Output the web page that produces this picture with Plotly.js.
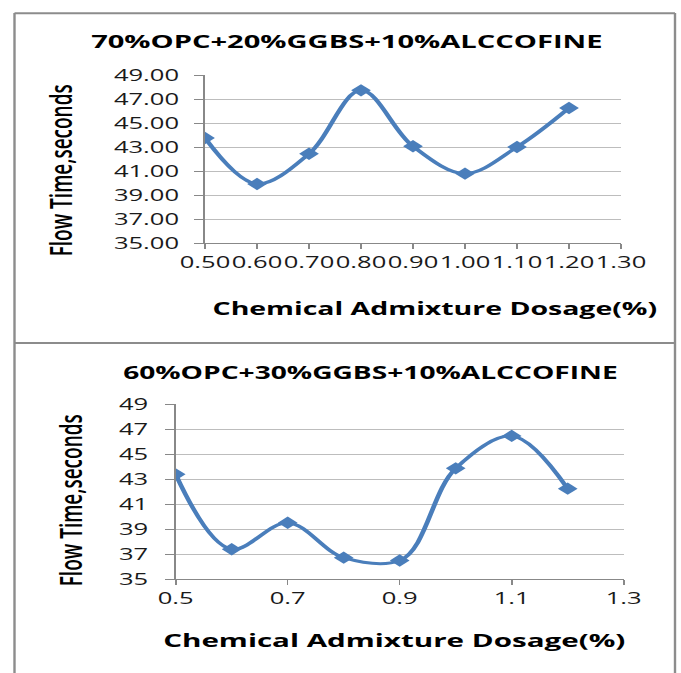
<!DOCTYPE html>
<html>
<head>
<meta charset="utf-8">
<script src="https://cdn.plot.ly/plotly-3.0.1.min.js"></script>
<style>
  html, body { margin: 0; padding: 0; background: #ffffff; overflow: hidden; }
  #wrap { width: 681px; height: 673px; position: relative; overflow: hidden; }
  #chart { width: 426px; height: 673px; transform-origin: 0 0; transform: scaleX(1.5986); }
</style>
</head>
<body>
<div id="wrap"><div id="chart"></div></div>
<script>
// ---- data ----
const dosage = [0.5, 0.6, 0.7, 0.8, 0.9, 1.0, 1.1, 1.2];
const flowTimeMix1 = [43.75, 39.92, 42.44, 47.72, 43.06, 40.78, 43.0, 46.25];
const flowTimeMix2 = [43.38, 37.40, 39.52, 36.73, 36.50, 43.86, 46.45, 42.24];
const title1 = "70%OPC+20%GGBS+10%ALCCOFINE";
const title2 = "60%OPC+30%GGBS+10%ALCCOFINE";
const xTitle = "Chemical Admixture Dosage(%)";
const yTitle = "Flow Time,seconds";

// ---- layout helpers (page pixel -> paper fraction) ----
const PW = 681, PH = 673;
const px = v => v / PW;
const py = v => 1 - v / PH;

const blue = "#4A7EBB";
const FONT = "Open Sans";

const traceStyle = {
  mode: "lines+markers",
  line: { color: blue, width: 3, shape: "spline", smoothing: 1 },
  marker: { symbol: "diamond", size: 9.5, color: blue },
  hoverinfo: "x+y",
  showlegend: false
};

const data = [
  Object.assign({ x: dosage, y: flowTimeMix1, xaxis: "x", yaxis: "y" }, traceStyle),
  Object.assign({ x: dosage, y: flowTimeMix2, xaxis: "x2", yaxis: "y2" }, traceStyle)
];

const tickFont = { family: FONT, size: 16, color: "#1a1a1a" };
const axisCommon = {
  showline: true, linecolor: "#888888", linewidth: 1,
  ticks: "outside", tickcolor: "#888888", tickwidth: 1,
  tickfont: tickFont, zeroline: false, fixedrange: true
};

const layout = {
  width: 426, height: 673,
  margin: { l: 0, r: 0, t: 0, b: 0, pad: 0 },
  paper_bgcolor: "#ffffff", plot_bgcolor: "#ffffff",
  font: { family: FONT, color: "#000000" },
  xaxis: Object.assign({}, axisCommon, {
    domain: [px(205), px(621)], anchor: "y",
    range: [0.5, 1.3], dtick: 0.1, tick0: 0.5, tickformat: ".2f", tickangle: 0,
    ticklen: 5, ticklabelstandoff: 8.5, showgrid: false
  }),
  yaxis: Object.assign({}, axisCommon, {
    domain: [py(243), py(75)], anchor: "x",
    range: [35, 49], dtick: 2, tick0: 35, tickformat: ".2f",
    ticklen: 6, ticklabelstandoff: 6, showgrid: true, gridcolor: "#bdbdbd", gridwidth: 1
  }),
  xaxis2: Object.assign({}, axisCommon, {
    domain: [px(175.7), px(623.7)], anchor: "y2",
    range: [0.5, 1.3], dtick: 0.2, tick0: 0.5, tickformat: ".1f", tickangle: 0,
    ticklen: 5, ticklabelstandoff: 11.5, showgrid: false
  }),
  yaxis2: Object.assign({}, axisCommon, {
    domain: [py(579.3), py(404)], anchor: "x2",
    range: [35, 49], dtick: 2, tick0: 35, tickformat: "d",
    ticklen: 6, ticklabelstandoff: 7, showgrid: true, gridcolor: "#bdbdbd", gridwidth: 1
  }),
  annotations: [
    { text: title1, x: px(347), y: py(40.7), xref: "paper", yref: "paper", xanchor: "center", yanchor: "middle", showarrow: false,
      font: { family: FONT, size: 18.2, weight: 700, color: "#000" } },
    { text: title2, x: px(370), y: py(372.3), xref: "paper", yref: "paper", xanchor: "center", yanchor: "middle", showarrow: false,
      font: { family: FONT, size: 17.6, weight: 700, color: "#000" } },
    { text: xTitle, x: px(435), y: py(308.3), xref: "paper", yref: "paper", xanchor: "center", yanchor: "middle", showarrow: false,
      font: { family: FONT, size: 17.8, weight: 700, color: "#000" } },
    { text: xTitle, x: px(394), y: py(639.3), xref: "paper", yref: "paper", xanchor: "center", yanchor: "middle", showarrow: false,
      font: { family: FONT, size: 18.5, weight: 700, color: "#000" } },
    { text: yTitle, x: px(60), y: py(170.8), xref: "paper", yref: "paper", xanchor: "center", yanchor: "middle", showarrow: false,
      textangle: -90, font: { family: FONT, size: 19, weight: 600, color: "#000" } },
    { text: yTitle, x: px(70), y: py(500.5), xref: "paper", yref: "paper", xanchor: "center", yanchor: "middle", showarrow: false,
      textangle: -90, font: { family: FONT, size: 19, weight: 600, color: "#000" } }
  ],
  shapes: [
    { type: "line", xref: "paper", yref: "paper", x0: px(14.5), x1: px(14.5), y0: py(13), y1: py(680), line: { color: "#8c8c8c", width: 1.5 } },
    { type: "line", xref: "paper", yref: "paper", x0: px(675), x1: px(675), y0: py(13), y1: py(680), line: { color: "#8c8c8c", width: 1.5 } },
    { type: "line", xref: "paper", yref: "paper", x0: px(14.5), x1: px(675), y0: py(13.2), y1: py(13.2), line: { color: "#8c8c8c", width: 2 } },
    { type: "line", xref: "paper", yref: "paper", x0: px(14.5), x1: px(675), y0: py(343), y1: py(343), line: { color: "#8c8c8c", width: 2 } }
  ]
};

Plotly.newPlot("chart", data, layout, { displayModeBar: false, staticPlot: true });
</script>
</body>
</html>
